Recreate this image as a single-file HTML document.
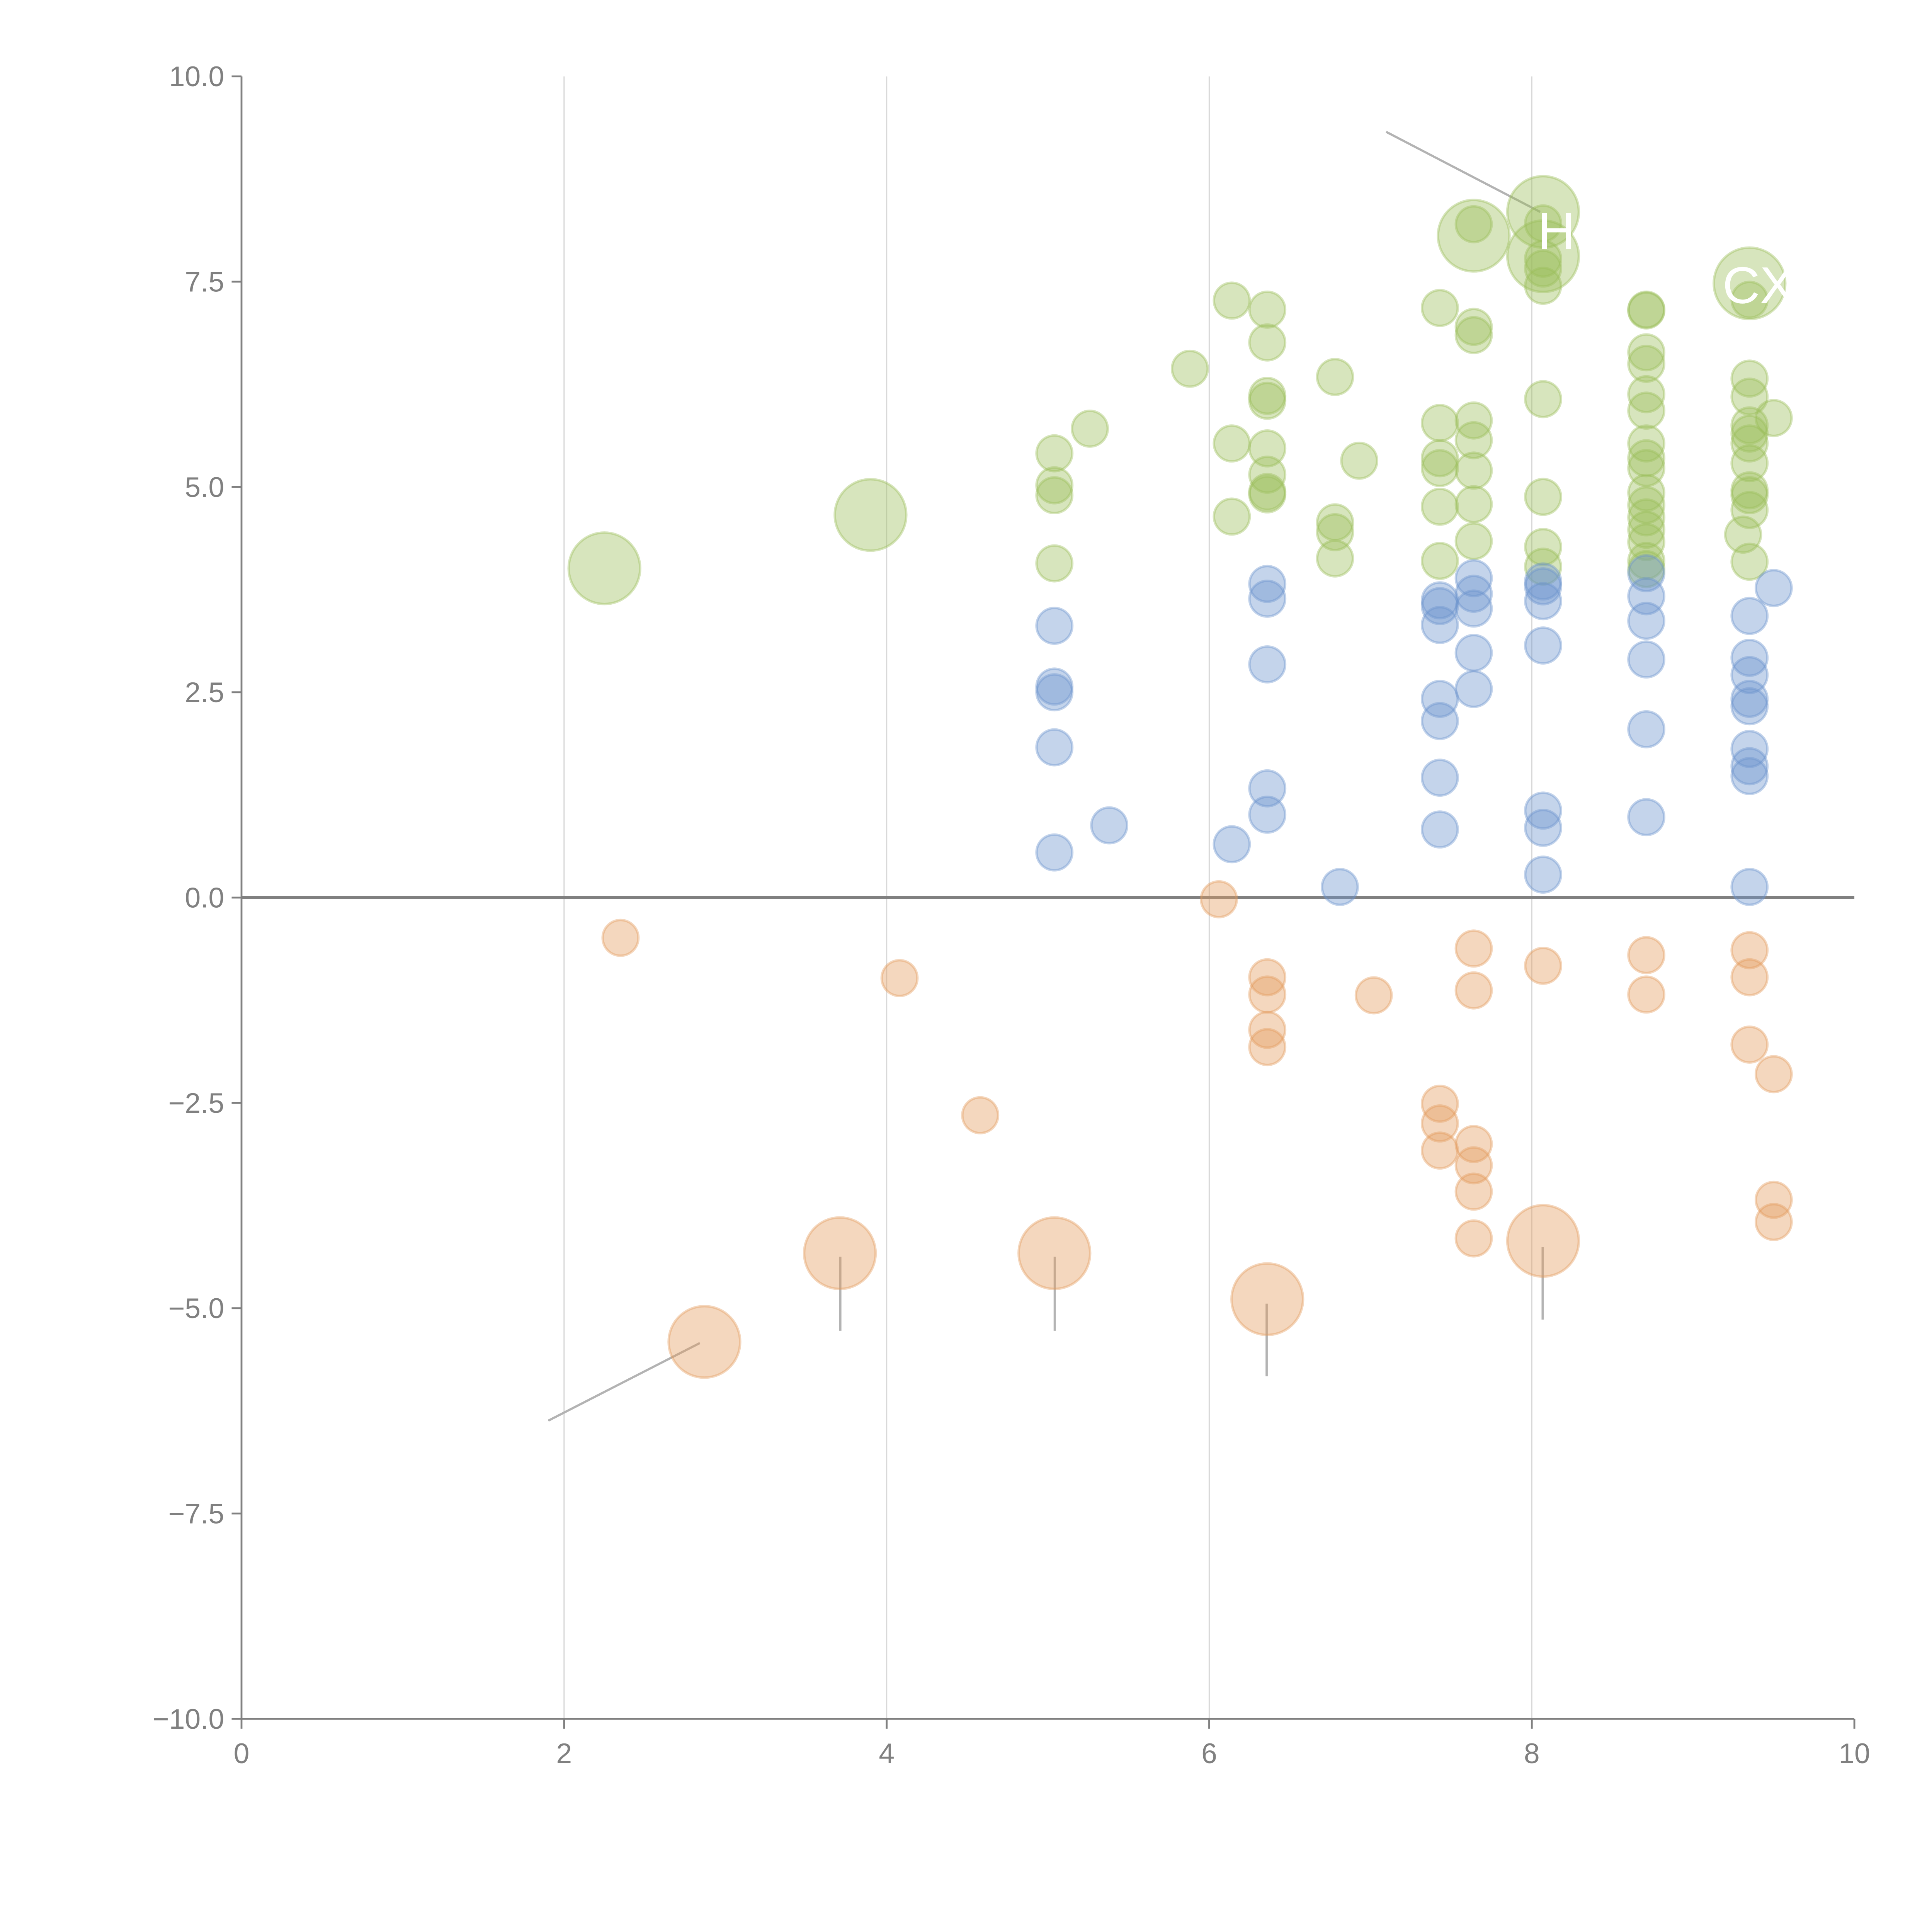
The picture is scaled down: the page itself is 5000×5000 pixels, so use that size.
<!DOCTYPE html>
<html><head><meta charset="utf-8"><style>
html,body{margin:0;padding:0;background:#fff}
svg{display:block}
</style></head><body>
<svg id="chart" xmlns="http://www.w3.org/2000/svg" width="5000" height="5000" viewBox="0 0 1568 1568" font-family="Liberation Sans, sans-serif">
<g id="grid"></g>
<g id="axes"></g>
<g id="annot"></g>
<g id="marks"></g>
<g id="labels"></g>
</svg>
<script>
const xTicks=[0,2,4,6,8,10];
const yTicks=[-10,-7.5,-5,-2.5,0,2.5,5,7.5,10];
const yTickLabels=["\u221210.0","\u22127.5","\u22125.0","\u22122.5","0.0","2.5","5.0","7.5","10.0"];
const greenX=[2.25,3.90,5.04,5.04,5.04,5.04,5.26,5.88,6.14,6.14,6.14,6.36,6.36,6.36,6.36,6.36,6.36,6.36,6.36,6.78,6.78,6.78,6.78,6.93,7.43,7.43,7.43,7.43,7.43,7.43,7.64,7.64,7.64,7.64,7.64,7.64,7.64,7.64,7.64,8.07,8.07,8.07,8.07,8.07,8.07,8.07,8.07,8.07,8.07,8.71,8.71,8.71,8.71,8.71,8.71,8.71,8.71,8.71,8.71,8.71,8.71,8.71,8.71,8.71,8.71,9.35,9.35,9.35,9.35,9.35,9.35,9.35,9.35,9.35,9.35,9.35,9.35,9.31,9.50];
const greenY=[4.01,4.66,5.41,5.02,4.90,4.07,5.71,6.44,7.27,5.53,4.64,7.16,6.76,6.11,6.05,5.47,5.15,4.94,4.91,6.34,4.57,4.45,4.13,5.32,7.18,5.78,5.35,5.23,4.76,4.10,8.06,8.20,6.95,6.85,5.81,5.57,5.20,4.79,4.34,8.35,7.81,8.21,7.78,7.66,7.45,6.07,4.88,4.27,4.03,7.16,7.15,6.64,6.50,6.13,5.93,5.53,5.35,5.23,4.93,4.78,4.63,4.48,4.33,4.10,4.00,7.48,7.28,6.32,6.10,5.75,5.65,5.53,5.29,4.96,4.90,4.72,4.09,4.42,5.84];
const greenSize=[2,2,1,1,1,1,1,1,1,1,1,1,1,1,1,1,1,1,1,1,1,1,1,1,1,1,1,1,1,1,2,1,1,1,1,1,1,1,1,2,2,1,1,1,1,1,1,1,1,1,1,1,1,1,1,1,1,1,1,1,1,1,1,1,1,2,1,1,1,1,1,1,1,1,1,1,1,1,1];
const blueX=[5.04,5.04,5.04,5.04,5.04,5.38,6.14,6.36,6.36,6.36,6.36,6.36,6.81,7.43,7.43,7.43,7.43,7.43,7.43,7.43,7.64,7.64,7.64,7.64,7.64,8.07,8.07,8.07,8.07,8.07,8.07,8.07,8.71,8.71,8.71,8.71,8.71,8.71,9.35,9.35,9.35,9.35,9.35,9.35,9.35,9.35,9.35,9.50];
const blueY=[3.31,2.57,2.50,1.83,0.55,0.88,0.65,3.82,3.64,2.84,1.33,1.01,0.13,3.62,3.55,3.32,2.42,2.15,1.46,0.83,3.89,3.70,3.52,2.98,2.54,3.85,3.79,3.61,3.07,1.06,0.85,0.28,3.95,3.67,3.37,2.90,2.05,0.98,3.43,2.92,2.71,2.42,2.33,1.81,1.60,1.48,0.13,3.77];
const orangeX=[2.35,2.87,3.71,4.08,4.58,5.04,6.06,6.36,6.36,6.36,6.36,6.36,7.02,7.43,7.43,7.43,7.64,7.64,7.64,7.64,7.64,7.64,8.07,8.07,8.71,8.71,9.35,9.35,9.35,9.50,9.50,9.50];
const orangeY=[-0.49,-5.41,-4.33,-0.98,-2.65,-4.33,-0.02,-4.89,-0.97,-1.18,-1.61,-1.82,-1.19,-2.51,-2.75,-3.08,-0.62,-1.13,-3.00,-3.26,-3.58,-4.15,-4.18,-0.83,-0.70,-1.18,-0.64,-0.97,-1.79,-2.15,-3.68,-3.95];
const orangeSize=[1,2,2,1,1,2,1,2,1,1,1,1,1,1,1,1,1,1,1,1,1,1,2,1,1,1,1,1,1,1,1,1];

const X0=196,X1=1505,Y0=1395,Y1=62;
const sx=v=>X0+(v-0)/(10-0)*(X1-X0);
const sy=v=>Y0-(v+10)/20*(Y0-Y1);
const NS="http://www.w3.org/2000/svg";
function mk(tag,attrs,parent){const e=document.createElementNS(NS,tag);for(const k in attrs)e.setAttribute(k,attrs[k]);parent.appendChild(e);return e;}
const grid=document.getElementById('grid'),axes=document.getElementById('axes'),marks=document.getElementById('marks'),annot=document.getElementById('annot'),labels=document.getElementById('labels');

xTicks.forEach(t=>{
  if(t>0&&t<10){const g=mk('line',{x1:sx(t),x2:sx(t),y1:Y1,y2:Y0,stroke:'#d9d9d9','stroke-width':1},grid);
  
  }
  const tk=mk('line',{x1:sx(t),x2:sx(t),y1:Y0,y2:Y0+8,stroke:'#808080','stroke-width':1.5},axes);
  
  
  const tx=mk('text',{x:sx(t),y:Y0+36,'text-anchor':'middle','font-size':23,fill:'#808080'},axes);
  tx.textContent=String(t);
  
  
});
yTicks.forEach((t,i)=>{
  const tk=mk('line',{x1:X0-8,x2:X0,y1:sy(t),y2:sy(t),stroke:'#808080','stroke-width':1.5},axes);
  
  
  const tx=mk('text',{x:X0-14,y:sy(t)+8,'text-anchor':'end','font-size':23,fill:'#808080'},axes);
  tx.textContent=yTickLabels[i];
  
  
});
const ya=mk('line',{x1:X0,x2:X0,y1:Y1,y2:Y0,stroke:'#808080','stroke-width':1.5},axes);


const xa=mk('line',{x1:X0,x2:X1,y1:Y0,y2:Y0,stroke:'#808080','stroke-width':1.5},axes);


const zl=mk('line',{x1:X0,x2:X1,y1:sy(0),y2:sy(0),stroke:'#808080','stroke-width':2.5},axes);



[[1125,107,1250,172],[445,1153,568,1090],[682,1020,682,1080],[856,1020,856,1080],[1028,1058,1028,1117],[1252,1012,1252,1071]].forEach(l=>{
  const e=mk('line',{x1:l[0],y1:l[1],x2:l[2],y2:l[3],stroke:'#b3b3b3','stroke-width':1.8},annot);
  
  
});

function series(xs,ys,sizes,fill,stroke,name){
  xs.forEach((x,i)=>{
    const r=sizes&&sizes[i]===2?29:14.5;
    const c=mk('circle',{cx:sx(x),cy:sy(ys[i]),r:r,fill:fill,'fill-opacity':0.4,stroke:stroke,'stroke-opacity':0.4,'stroke-width':2},marks);
    
    
  });
}
series(greenX,greenY,greenSize,'#9cbf5a','#9cbf5a','green-bubble');
series(blueX,blueY,null,'#6b93cc','#6b93cc','blue-bubble');
series(orangeX,orangeY,orangeSize,'#e39a5c','#e39a5c','orange-bubble');

[["H",1248,202],["CX",1398,246]].forEach(d=>{
  const t=mk('text',{x:d[1],y:d[2],'font-size':42,fill:'#ffffff'},labels);
  t.textContent=d[0];
  
  
});
</script>
</body></html>
